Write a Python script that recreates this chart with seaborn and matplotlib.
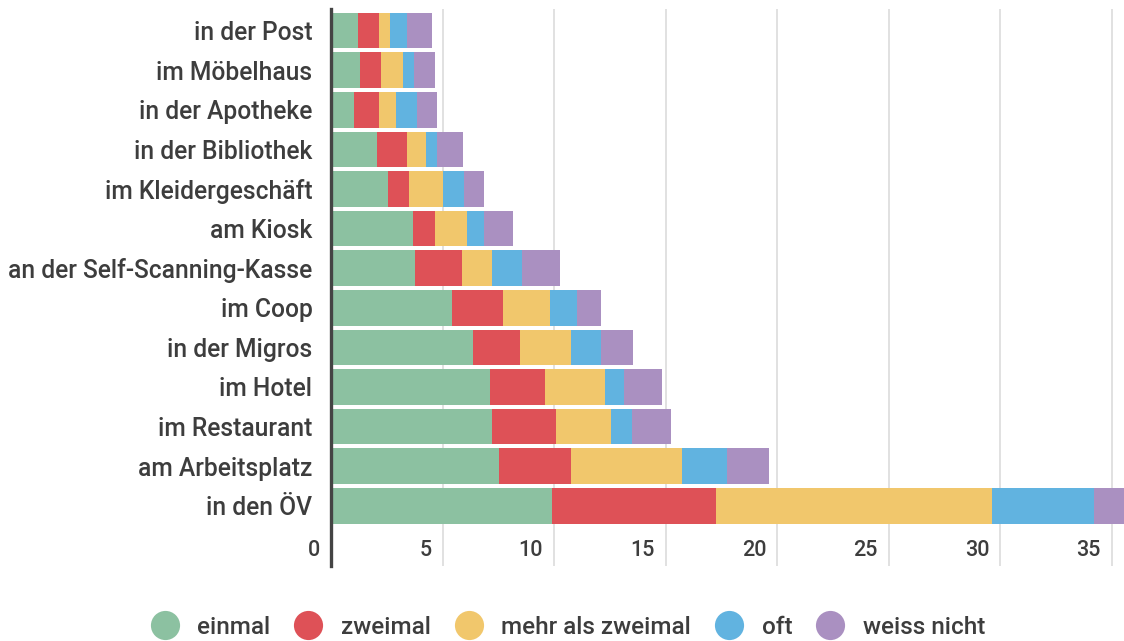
import matplotlib
matplotlib.use("Agg")
import matplotlib.pyplot as plt
from matplotlib.lines import Line2D
from matplotlib import transforms
import seaborn as sns
import pandas as pd
import numpy as np

# categories, top to bottom
orte = ["in der Post", "im Möbelhaus", "in der Apotheke", "in der Bibliothek",
        "im Kleidergeschäft", "am Kiosk", "an der Self-Scanning-Kasse", "im Coop",
        "in der Migros", "im Hotel", "im Restaurant", "am Arbeitsplatz", "in den ÖV"]

einmal = [1.2, 1.27, 1.04, 2.04, 2.55, 3.66, 3.75, 5.42, 6.36, 7.13, 7.21, 7.54, 9.91]
zweimal = [0.93, 0.95, 1.09, 1.36, 0.93, 1.01, 2.11, 2.3, 2.12, 2.45, 2.86, 3.21, 7.36]
mehr_als_zweimal = [0.5, 1.0, 0.77, 0.85, 1.53, 1.42, 1.35, 2.11, 2.27, 2.7, 2.47, 5.0, 12.35]
oft = [0.78, 0.5, 0.93, 0.51, 0.94, 0.78, 1.36, 1.19, 1.37, 0.84, 0.93, 2.02, 4.57]
weiss_nicht = [1.1, 0.93, 0.93, 1.17, 0.92, 1.27, 1.67, 1.1, 1.42, 1.7, 1.77, 1.87, 1.8]

serien = ["einmal", "zweimal", "mehr als zweimal", "oft", "weiss nicht"]
farben = ["#8cc1a1", "#de5157", "#f1c76c", "#61b3e0", "#aa90c1"]
xticks = [0, 5, 10, 15, 20, 25, 30, 35]

df = pd.DataFrame({"ort": orte, "einmal": einmal, "zweimal": zweimal,
                   "mehr als zweimal": mehr_als_zweimal, "oft": oft,
                   "weiss nicht": weiss_nicht})
cum = df[serien].cumsum(axis=1)
cum["ort"] = df["ort"]

sns.set_theme(style="white")
plt.rcParams["font.family"] = ["Roboto", "DejaVu Sans"]
plt.rcParams["font.weight"] = "medium"
textfarbe = "#3d3d3d"

fig = plt.figure(figsize=(11.24, 6.41), dpi=100)
ax = fig.add_axes([331.2 / 1124, 1 - 566 / 641, 1 - 331.2 / 1124, (566 - 9) / 641])

# stacked bars: draw cumulative totals from the outermost series inward
for s, c in reversed(list(zip(serien, farben))):
    sns.barplot(data=cum, x=s, y="ort", color=c, orient="h", width=0.9,
                linewidth=0, saturation=1, ax=ax, zorder=2)

ax.set_xlim(0, 35.55)
ax.set_ylim(13.52, -0.543)
ax.set_xlabel("")
ax.set_ylabel("")

# grid
ax.set_xticks(xticks)
ax.grid(axis="x", color="#dcdcdc", lw=1.2, zorder=0)
ax.set_axisbelow(True)
ax.set_xticklabels([])
ax.tick_params(axis="x", length=0)
off = transforms.ScaledTranslation(-11 / 100, 0, fig.dpi_scale_trans)
for t in xticks:
    ax.text(t, 15 / 557, str(t), transform=ax.get_xaxis_transform() + off,
            ha="right", va="center", fontsize=15.5, color=textfarbe,
            fontweight="medium")

ax.tick_params(axis="y", length=0, pad=13.5, labelsize=17.7, labelcolor=textfarbe)
for lbl in ax.get_yticklabels():
    lbl.set_fontweight("medium")

for side in ["top", "right", "bottom"]:
    ax.spines[side].set_visible(False)
ax.spines["left"].set_color("#444444")
ax.spines["left"].set_linewidth(2.4)
ax.spines["left"].set_zorder(5)

handles = [Line2D([], [], marker="o", linestyle="", markersize=21,
                  markerfacecolor=c, markeredgewidth=0) for c in farben]
fig.legend(handles, serien, loc="center", bbox_to_anchor=(0.505, 1 - 627 / 641),
           ncol=5, frameon=False, labelcolor=textfarbe,
           prop={"size": 17.5, "weight": "medium"},
           handletextpad=0.75, columnspacing=0.95, handlelength=1.2)

fig.savefig("out.png", dpi=100)
